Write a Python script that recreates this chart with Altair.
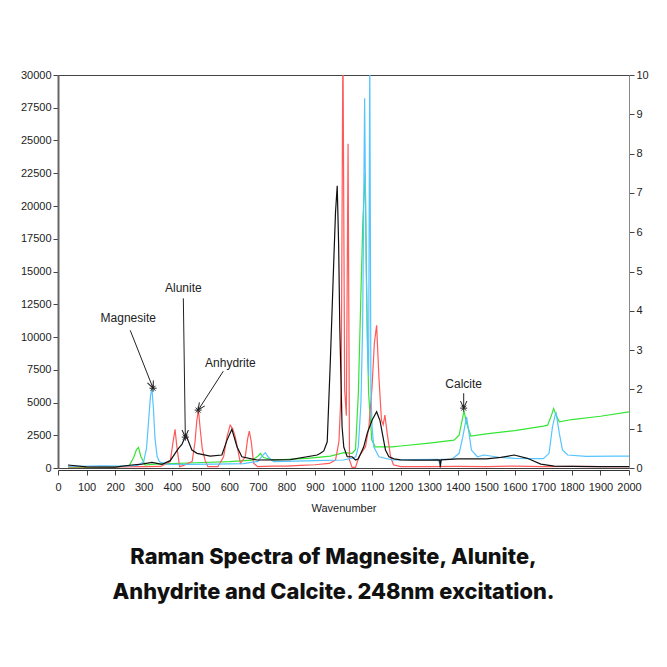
import altair as alt
import pandas as pd

# ---------------- data ----------------
mag_x = [35, 80, 150, 220, 280, 300, 310, 318, 324, 329, 334, 340, 347, 355, 380, 450, 550, 650, 700, 715,
         726, 738, 755, 800, 900, 1000, 1030, 1043, 1052, 1061, 1067, 1074, 1079, 1084, 1088, 1092, 1096,
         1100, 1106, 1124, 1171, 1250, 1330, 1339, 1341, 1380, 1405, 1418, 1431, 1440, 1448, 1469, 1492,
         1550, 1600, 1650, 1700, 1720, 1732, 1744, 1756, 1767, 1785, 1850, 1950, 2000]
mag_y = [150, 130, 160, 140, 200, 480, 1500, 3800, 5500, 6070, 4600, 2200, 900, 480, 300, 280, 300, 340, 500, 900,
         1170, 800, 480, 500, 560, 610, 750, 860, 1620, 4930, 10760, 28230, 16000, 9000, 7000, 31500, 6000,
         3150, 1620, 860, 610, 640, 660, 300, 660, 680, 1120, 2400, 3910, 2600, 1370, 860, 990,
         800, 740, 720, 720, 1120, 3150, 4290, 2640, 1370, 990, 880, 900, 910]

cal_x = [35, 100, 200, 250, 265, 275, 282, 290, 305, 340, 400, 480, 600, 680, 700, 709, 720, 755, 873, 954,
         1001, 1030, 1042, 1052, 1061, 1068, 1076, 1083, 1088, 1099, 1111, 1171, 1200, 1300, 1387, 1405,
         1415, 1422, 1430, 1446, 1500, 1600, 1700, 1715, 1728, 1736, 1745, 1756, 1800, 1900, 2000]
cal_y = [60, 50, 60, 200, 800, 1400, 1570, 900, 230, 300, 330, 400, 480, 600, 900, 1120, 800, 610, 740, 910,
         1170, 1120, 1400, 5690, 13300, 19000, 22470, 10760, 5690, 2130, 1620, 1620, 1680, 1900, 2130, 2500,
         3600, 4370, 3500, 2440, 2600, 2850, 3200, 3270, 4000, 4540, 4000, 3530, 3700, 3950, 4290]

anh_x = [35, 100, 200, 300, 360, 393, 403, 410, 417, 426, 440, 470, 480, 486, 492, 498, 505, 515, 525, 560,
         580, 592, 603, 612, 621, 639, 656, 664, 670, 677, 685, 700, 750, 800, 850, 900, 950, 972, 984, 992,
         998, 1004, 1010, 1016, 1021, 1030, 1042, 1054, 1077, 1089, 1100, 1108, 1116, 1124, 1133, 1139,
         1145, 1153, 1165, 1175, 1200, 1300, 1400, 1500, 1600, 1700, 1800, 1900, 2000]
anh_y = [80, 100, 80, 100, 120, 480, 2000, 2950, 1500, 100, 200, 500, 2000, 3600, 4420, 3000, 1500, 600, 100, 100,
         860, 2380, 3270, 3000, 2380, 360, 860, 2200, 2820, 2000, 360, 100, 150, 150, 200, 250, 350, 610, 2000, 6000,
         33000, 6000, 4000, 24750, 610, 50, 50, 860, 1620, 3150, 6190, 9500, 10890, 6950, 3650, 3300,
         4040, 2640, 860, 250, 100, 100, 120, 100, 150, 100, 120, 100, 100]

alu_x = [35, 100, 200, 258, 294, 329, 364, 393, 422, 434, 448, 469, 487, 533, 574, 592, 609, 627, 644, 697,
         760, 814, 908, 919, 931, 943, 954, 966, 972, 978, 983, 987, 995, 1001, 1013, 1030, 1042, 1052, 1071,
         1083, 1100, 1116, 1128, 1136, 1147, 1159, 1177, 1200, 1250, 1300, 1337, 1339, 1342, 1400, 1500,
         1551, 1598, 1644, 1691, 1738, 1800, 1900, 2000]
alu_y = [230, 80, 60, 230, 300, 430, 280, 560, 1500, 1800, 2510, 1370, 1120, 910, 990, 2130, 2960, 1620, 860, 610,
         620, 640, 990, 1120, 1300, 2000, 8220, 15840, 19500, 21550, 17000, 10760, 3150, 1600, 860, 860, 610, 700, 1620,
         2640, 3650, 4290, 3600, 2640, 1370, 860, 700, 620, 600, 600, 620, 50, 620, 700, 700,
         810, 990, 740, 300, 150, 130, 110, 100]

series_names = ["Calcite", "Anhydrite", "Magnesite", "Alunite"]
series_colors = ["#33e633", "#ff5a5a", "#55c4ff", "#111111"]

# annotations
ann_label = ["Magnesite", "Alunite", "Anhydrite", "Calcite"]
ann_text_x = [246, 439, 604, 1421]
ann_text_y = [11420, 13750, 8000, 6400]
ann_from_x = [253, 439, 579, 1421]
ann_from_y = [10510, 12950, 7390, 5710]
ann_to_x = [333, 446, 491, 1421]
ann_to_y = [6090, 2360, 4420, 4570]
ann_angle = [158, 179, 213, 180]

left_ticks = list(range(0, 30001, 2500))
right_ticks = list(range(0, 11))
x_ticks = list(range(0, 2001, 100))

# ---------------- chart ----------------
W, H = 571, 393
LABEL_FONT = "Liberation Sans"

x_scale = alt.Scale(domain=[0, 2000], nice=False, zero=False)
y_scale = alt.Scale(domain=[0, 30000], nice=False, zero=False)

xs = {"Calcite": (cal_x, cal_y), "Anhydrite": (anh_x, anh_y),
      "Magnesite": (mag_x, mag_y), "Alunite": (alu_x, alu_y)}

x_axis = alt.Axis(values=x_ticks, format="d", title="Wavenumber", labelFont=LABEL_FONT, labelFontSize=11,
                  titleFont=LABEL_FONT, titleFontSize=11, titleFontWeight="normal", titleColor="#222",
                  labelColor="#222", tickColor="#444", tickSize=5, domainColor="#333", grid=False,
                  labelPadding=6, titlePadding=10, offset=2, labelFlush=False)
y_axis = alt.Axis(values=left_ticks, format="d", title=None, labelFont=LABEL_FONT, labelFontSize=11,
                  labelColor="#222", tickColor="#444", tickSize=5, domainColor="#666", domainWidth=2,
                  grid=False, labelPadding=2)


def X(field):
    return alt.X(field, scale=x_scale, axis=x_axis)


def Y(field):
    return alt.Y(field, scale=y_scale, axis=y_axis)


layers = []
for name, col in zip(series_names, series_colors):
    sx, sy = xs[name]
    d = pd.DataFrame({"wn": sx, "val": sy, "series": name})
    layers.append(
        alt.Chart(d).mark_line(color=col, strokeWidth=1.2, clip=True).encode(
            x=X("wn:Q"), y=Y("val:Q"))
    )

ann = pd.DataFrame({"label": ann_label, "tx": ann_text_x, "ty": ann_text_y,
                    "fx": ann_from_x, "fy": ann_from_y, "px": ann_to_x, "py": ann_to_y,
                    "angle": ann_angle})

arrows = alt.Chart(ann).mark_rule(color="#222", strokeWidth=1).encode(
    x=X("fx:Q"), y=Y("fy:Q"), x2="px:Q", y2="py:Q")
heads = alt.Chart(ann).mark_point(shape="M-0.45,1L0,0L0.45,1", filled=False, color="#222",
                                  strokeWidth=1, size=200, opacity=1).encode(
    x=X("px:Q"), y=Y("py:Q"), angle=alt.Angle("angle:Q", scale=None))
stars = alt.Chart(ann).mark_point(shape="M-1,0L1,0M0,-1L0,1M-0.7,-0.7L0.7,0.7M-0.7,0.7L0.7,-0.7",
                                  filled=False, color="#222", strokeWidth=1, size=50, opacity=1).encode(
    x=X("px:Q"), y=Y("py:Q"))
texts = alt.Chart(ann).mark_text(font=LABEL_FONT, fontSize=12, color="#222", align="center",
                                 baseline="middle").encode(
    x=X("tx:Q"), y=Y("ty:Q"), text="label:N")

main = alt.layer(*layers, arrows, heads, stars, texts)

right = alt.Chart(pd.DataFrame({"r": right_ticks})).mark_point(opacity=0).encode(
    y=alt.Y("r:Q", scale=alt.Scale(domain=[0, 10], nice=False),
            axis=alt.Axis(orient="right", values=right_ticks, title=None, labelFont=LABEL_FONT,
                          labelFontSize=11, labelColor="#222", tickColor="#444", tickSize=5,
                          domainColor="#888", grid=False, labelPadding=2)))

chart = alt.layer(main, right).resolve_scale(y="independent").properties(
    width=W, height=H,
    padding={"left": 58, "top": 75, "right": 38, "bottom": 199},
    autosize=alt.AutoSizeParams(type="none"),
    background="white",
    title=alt.TitleParams(text=["Raman Spectra of Magnesite, Alunite,",
                                "Anhydrite and Calcite. 248nm excitation."],
                          orient="bottom", anchor="middle", font="Inter", fontSize=21.8,
                          fontWeight=800, color="#111", lineHeight=35, offset=34, dx=-10),
).configure_view(stroke="#444", strokeWidth=1)

chart.save("out.html", embed_options={"renderer": "svg", "actions": False})
